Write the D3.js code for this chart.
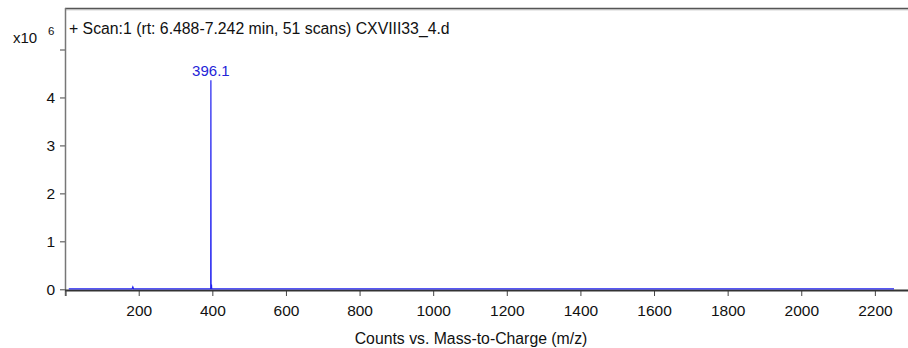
<!DOCTYPE html>
<html><head><meta charset="utf-8">
<script src="https://cdn.jsdelivr.net/npm/d3@7"></script>
<style>body{margin:0;background:#fff;} text{font-family:"Liberation Sans",Arial,sans-serif;}</style>
</head><body>
<svg id="c" width="908" height="348"></svg>
<script>
// data (x10^6 counts)
const mz =        [10,   182,  184,  186,  394.5, 395.6, 396.1, 396.6, 397.2, 397.7, 398.3, 2252];
const intensity = [0.01, 0.01, 0.05, 0.01, 0.01,  0.01,  4.36,  0.01,  0.01,  0.1,   0.01,  0.01];
const peakLabels = [{mz: 396.1, value: 4.36, text: "396.1"}];
const xTicks = [200,400,600,800,1000,1200,1400,1600,1800,2000,2200];
const yTicks = [0,1,2,3,4,5];
const yTickLabels = ["0","1","2","3","4",""];
const title = "+ Scan:1 (rt: 6.488-7.242 min, 51 scans) CXVIII33_4.d";
const xTitle = "Counts vs. Mass-to-Charge (m/z)";

const svg = d3.select("#c");
const L = 65, R = 908, T = 8, B = 290;
const x = d3.scaleLinear().domain([0, 2290]).range([65.1, 908]);
const y = d3.scaleLinear().domain([0, 5]).range([289.3, 49.5]);

// frame top line
svg.append("line").attr("x1", L).attr("x2", R).attr("y1", T+0.5).attr("y2", T+0.5)
  .attr("stroke", "#555").attr("stroke-width", 1.5);
svg.append("line").attr("x1", L).attr("x2", R).attr("y1", T+1.8).attr("y2", T+1.8)
  .attr("stroke", "#aaa").attr("stroke-width", 0.8);

// y axis
const yAxis = d3.axisLeft(y).tickValues(yTicks).tickFormat((d,i)=>yTickLabels[i]).tickSize(5).tickPadding(5);
const gy = svg.append("g").attr("transform", `translate(${L},0)`).call(yAxis);
gy.select(".domain").remove();
gy.selectAll(".tick line").attr("stroke", "#444");
gy.selectAll(".tick text").attr("font-size", 15.5).attr("fill", "#111")
  .style("font-family", "'Liberation Sans',Arial,sans-serif");
svg.append("line").attr("x1", L+0.5).attr("x2", L+0.5).attr("y1", T).attr("y2", 296)
  .attr("stroke", "#777").attr("stroke-width", 1.5);

// x axis
const xAxis = d3.axisBottom(x).tickValues(xTicks).tickFormat(d3.format("d")).tickSize(6).tickPadding(9);
const gx = svg.append("g").attr("transform", `translate(0,${B})`).call(xAxis);
gx.select(".domain").remove();
gx.selectAll(".tick line").attr("stroke", "#444");
gx.selectAll(".tick text").attr("font-size", 15.5).attr("fill", "#111")
  .style("font-family", "'Liberation Sans',Arial,sans-serif");
svg.append("line").attr("x1", L).attr("x2", R).attr("y1", B+0.5).attr("y2", B+0.5)
  .attr("stroke", "#333").attr("stroke-width", 2);
svg.append("line").attr("x1", L+1).attr("x2", L+1).attr("y1", B).attr("y2", B+6)
  .attr("stroke", "#444");

// spectrum
const line = d3.line().x((d,i)=>x(mz[i])).y((d,i)=>y(intensity[i]));
svg.append("path").attr("d", line(mz)).attr("fill", "none").attr("stroke", "#2020f0").attr("stroke-width", 1.2);

// peak labels
svg.selectAll(".pl").data(peakLabels).enter().append("text")
  .attr("x", d=>x(d.mz)).attr("y", d=>y(d.value)-4).attr("text-anchor", "middle")
  .attr("font-size", 15).attr("fill", "#2424d8").text(d=>d.text);

// multiplier
svg.append("text").attr("x", 13).attr("y", 43).attr("font-size", 15).attr("fill", "#111").text("x10");
svg.append("text").attr("x", 48).attr("y", 35).attr("font-size", 11.5).attr("fill", "#111").text("6");

// title
svg.append("text").attr("x", 69).attr("y", 34).attr("font-size", 15.8).attr("fill", "#111").text(title);

// x title
svg.append("text").attr("x", 471).attr("y", 344).attr("text-anchor", "middle").attr("font-size", 15.8)
  .attr("fill", "#111").text(xTitle);
</script>
</body></html>
